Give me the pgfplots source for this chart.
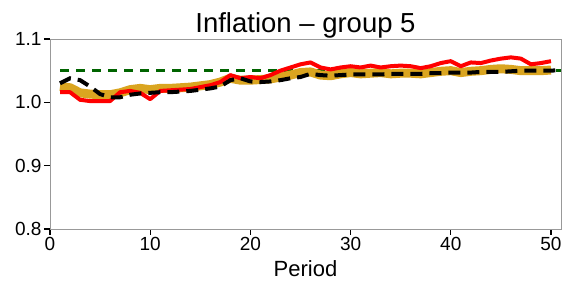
\documentclass[border=0pt]{standalone}
\usepackage{pgfplots}
\pgfplotsset{compat=1.18}
\usepackage{fontspec}
\setmainfont{Liberation Sans}
\definecolor{gold}{RGB}{218,165,32}
\definecolor{dgreen}{RGB}{0,100,0}
\begin{document}
\begin{tikzpicture}
\begin{axis}[
  scale only axis, width=511pt, height=190pt,
  xmin=0, xmax=51, ymin=0.8, ymax=1.1,
  xtick={0,10,20,30,40,50}, ytick={0.8,0.9,1.0,1.1},
  yticklabel style={xshift=1pt, /pgf/number format/.cd, fixed, fixed zerofill, precision=1},
  /pgf/number format/assume math mode=true,
  tick align=outside, major tick length=6pt,
  tick style={black, line width=1.2pt},
  axis line style={gray!80, line width=0.8pt},
  xtick pos=bottom, ytick pos=left,
  ticklabel style={font=\fontsize{19}{21}\selectfont},
  xticklabel style={yshift=1pt},
  title={Inflation -- group 5},
  title style={font=\fontsize{27.5}{29}\selectfont, yshift=-9pt},
  xlabel={Period},
  xlabel style={font=\fontsize{22}{24}\selectfont, yshift=-3pt},
  clip=true,
]
\addplot[dgreen, line width=2.6pt, dash pattern=on 9pt off 7pt] coordinates {(1,1.05) (51,1.05)};
\addplot[gold, line width=9pt, line join=round] coordinates {
(1,1.025)(2,1.023)(3,1.015)(4,1.013)(5,1.012)(6,1.012)(7,1.015)(8,1.020)(9,1.022)(10,1.020)
(11,1.022)(12,1.022)(13,1.023)(14,1.024)(15,1.026)(16,1.028)(17,1.032)(18,1.038)(19,1.035)(20,1.035)
(21,1.036)(22,1.037)(23,1.040)(24,1.043)(25,1.047)(26,1.048)(27,1.043)(28,1.042)(29,1.045)(30,1.047)
(31,1.045)(32,1.046)(33,1.047)(34,1.045)(35,1.046)(36,1.046)(37,1.045)(38,1.047)(39,1.049)(40,1.050)
(41,1.047)(42,1.049)(43,1.050)(44,1.052)(45,1.053)(46,1.052)(47,1.050)(48,1.050)(49,1.050)(50,1.051)};
\addplot[red, line width=4pt, line join=round] coordinates {
(1,1.016)(2,1.016)(3,1.004)(4,1.002)(5,1.002)(6,1.002)(7,1.016)(8,1.018)(9,1.015)(10,1.005)
(11,1.018)(12,1.019)(13,1.020)(14,1.021)(15,1.024)(16,1.027)(17,1.032)(18,1.043)(19,1.038)(20,1.040)
(21,1.038)(22,1.043)(23,1.050)(24,1.055)(25,1.060)(26,1.063)(27,1.055)(28,1.052)(29,1.055)(30,1.057)
(31,1.055)(32,1.058)(33,1.055)(34,1.057)(35,1.058)(36,1.057)(37,1.054)(38,1.057)(39,1.062)(40,1.065)
(41,1.057)(42,1.063)(43,1.062)(44,1.066)(45,1.069)(46,1.071)(47,1.069)(48,1.060)(49,1.062)(50,1.065)};
\addplot[black, line width=4pt, dash pattern=on 12pt off 7pt] coordinates {
(1,1.030)(2,1.038)(3,1.035)(4,1.025)(5,1.013)(6,1.008)(7,1.008)(8,1.012)(9,1.014)(10,1.015)
(11,1.016)(12,1.016)(13,1.017)(14,1.018)(15,1.020)(16,1.022)(17,1.025)(18,1.035)(19,1.038)(20,1.033)
(21,1.032)(22,1.033)(23,1.035)(24,1.038)(25,1.040)(26,1.045)(27,1.043)(28,1.042)(29,1.043)(30,1.044)
(31,1.044)(32,1.044)(33,1.044)(34,1.045)(35,1.045)(36,1.045)(37,1.045)(38,1.046)(39,1.046)(40,1.047)
(41,1.047)(42,1.047)(43,1.048)(44,1.048)(45,1.048)(46,1.049)(47,1.050)(48,1.050)(49,1.050)(50,1.050)(51,1.051)};
\end{axis}
\path[use as bounding box] (-50pt,-57pt) rectangle (516pt,229pt);
\end{tikzpicture}
\end{document}
